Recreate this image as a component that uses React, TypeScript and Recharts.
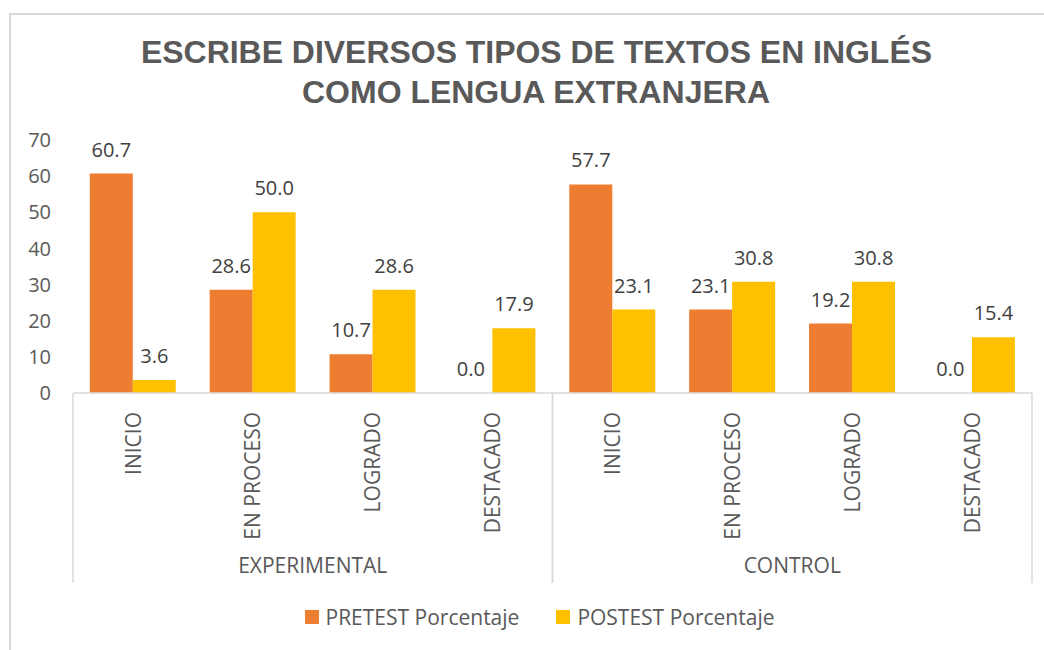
import { Bar, BarChart, LabelList, Legend, XAxis, YAxis } from 'recharts';

const GROUPS = ['EXPERIMENTAL', 'CONTROL'];
const LEVELS = ['INICIO', 'EN PROCESO', 'LOGRADO', 'DESTACADO'];
const PRETEST = [60.7, 28.6, 10.7, 0.0, 57.7, 23.1, 19.2, 0.0];
const POSTEST = [3.6, 50.0, 28.6, 17.9, 23.1, 30.8, 30.8, 15.4];
const Y_TICKS = [0, 10, 20, 30, 40, 50, 60, 70];

const SERIES = [
  { key: 'pretest', name: 'PRETEST Porcentaje', color: '#ED7D31' },
  { key: 'postest', name: 'POSTEST Porcentaje', color: '#FFC000' },
];

const data = GROUPS.flatMap((group, g) =>
  LEVELS.map((level, l) => {
    const i = g * LEVELS.length + l;
    return { key: `${group}-${level}`, group, level, pretest: PRETEST[i], postest: POSTEST[i] };
  }),
);

const WIDTH = 1044;
const HEIGHT = 650;
const MARGIN = { top: 140, right: 12, bottom: 18, left: 13 };
const Y_AXIS_W = 60;
const LEVEL_AXIS_H = 150;
const GROUP_AXIS_H = 59;
const PLOT_W = WIDTH - MARGIN.left - MARGIN.right - Y_AXIS_W;
const GROUP_W = PLOT_W / GROUPS.length;

const TEXT = '#595959';
const LINE = '#d9d9d9';
const FONT = '"Open Sans", sans-serif';

function LevelTick({ x, y, payload }: any) {
  const row = data[payload.index];
  return (
    <g transform={`translate(${x},${y})`}>
      <text
        transform="rotate(-90)"
        x={-19}
        y={0}
        dy="0.36em"
        textAnchor="end"
        fill={TEXT}
        fontSize={21}
        fontFamily={FONT}
      >
        {row ? row.level : payload.value}
      </text>
    </g>
  );
}

function GroupTick({ x, y, payload }: any) {
  return (
    <g>
      <line x1={x - GROUP_W / 2} x2={x - GROUP_W / 2} y1={y - LEVEL_AXIS_H} y2={y + 40} stroke={LINE} strokeWidth={1.5} />
      <line x1={x + GROUP_W / 2} x2={x + GROUP_W / 2} y1={y - LEVEL_AXIS_H} y2={y + 40} stroke={LINE} strokeWidth={1.5} />
      <text x={x} y={y + 30} textAnchor="middle" fill={TEXT} fontSize={21} fontFamily={FONT}>
        {payload.value}
      </text>
    </g>
  );
}

function LegendContent() {
  return (
    <div
      style={{
        height: 30,
        display: 'flex',
        justifyContent: 'center',
        alignItems: 'center',
        gap: 37,
        paddingLeft: 35,
        fontFamily: FONT,
        fontSize: 21,
        color: TEXT,
      }}
    >
      {SERIES.map((s) => (
        <span key={s.key} style={{ display: 'flex', alignItems: 'center', gap: 7 }}>
          <span style={{ width: 14, height: 14, background: s.color, display: 'inline-block' }} />
          {s.name}
        </span>
      ))}
    </div>
  );
}

// zero-valued bars get a hair of height so their "0.0" label still renders
const keepZero = (value: any) => (Number(value) === 0 ? 0.01 : 0);

export default function App() {
  return (
    <div style={{ position: 'absolute', left: 0, top: 0, width: WIDTH, height: HEIGHT, background: '#fff', overflow: 'hidden' }}>
      <div
        style={{
          position: 'absolute',
          left: 9,
          top: 13,
          width: WIDTH,
          height: HEIGHT,
          borderLeft: `2px solid ${LINE}`,
          borderTop: `2px solid ${LINE}`,
        }}
      />
      <svg width={WIDTH} height={130} style={{ position: 'absolute', left: 0, top: 0 }}>
        <text
          x={536.5}
          y={63}
          textAnchor="middle"
          fontFamily='"Liberation Sans", Arial, sans-serif'
          fontWeight="bold"
          fontSize={31}
          fill={TEXT}
          textLength={791}
          lengthAdjust="spacingAndGlyphs"
        >
          ESCRIBE DIVERSOS TIPOS DE TEXTOS EN INGLÉS
        </text>
        <text
          x={536}
          y={103}
          textAnchor="middle"
          fontFamily='"Liberation Sans", Arial, sans-serif'
          fontWeight="bold"
          fontSize={31}
          fill={TEXT}
          textLength={468}
          lengthAdjust="spacingAndGlyphs"
        >
          COMO LENGUA EXTRANJERA
        </text>
      </svg>
      <div style={{ position: 'absolute', left: 0, top: 0 }}>
        <BarChart width={WIDTH} height={HEIGHT} data={data} margin={MARGIN} barCategoryGap="14%" barGap={0}>
          <XAxis
            xAxisId="0"
            dataKey="key"
            height={LEVEL_AXIS_H}
            interval={0}
            tickLine={false}
            tickSize={0}
            tickMargin={0}
            axisLine={{ stroke: LINE, strokeWidth: 1.5 }}
            tick={<LevelTick />}
          />
          <XAxis
            xAxisId="1"
            dataKey="group"
            allowDuplicatedCategory={false}
            height={GROUP_AXIS_H}
            interval={0}
            tickLine={false}
            tickSize={0}
            tickMargin={0}
            axisLine={false}
            tick={<GroupTick />}
          />
          <YAxis
            width={Y_AXIS_W}
            domain={[0, 70]}
            ticks={Y_TICKS}
            axisLine={false}
            tickLine={false}
            tickSize={0}
            tickMargin={22}
            tick={{ fill: TEXT, fontSize: 20, fontFamily: FONT }}
          />
          <Legend verticalAlign="bottom" wrapperStyle={{ left: 0, width: WIDTH }} content={<LegendContent />} />
          {SERIES.map((s) => (
            <Bar
              key={s.key}
              xAxisId="0"
              dataKey={s.key}
              name={s.name}
              fill={s.color}
              minPointSize={keepZero}
              isAnimationActive={false}
            >
              <LabelList
                dataKey={s.key}
                position="top"
                offset={17}
                formatter={(v: any) => Number(v).toFixed(1)}
                fill="#404040"
                fontSize={20}
                fontFamily={FONT}
              />
            </Bar>
          ))}
        </BarChart>
      </div>
    </div>
  );
}
